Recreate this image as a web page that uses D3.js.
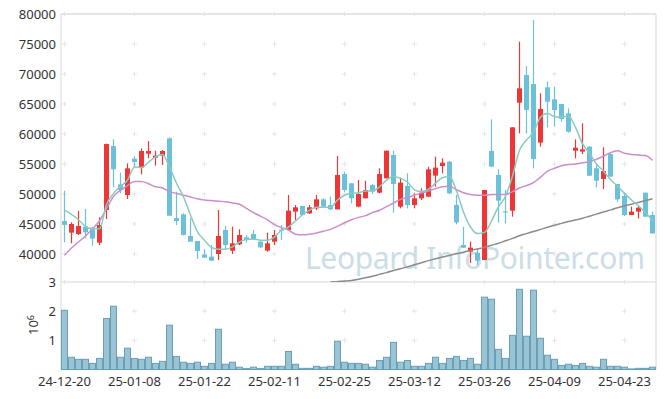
<!DOCTYPE html>
<html>
<head>
<meta charset="utf-8">
<script src="https://cdn.jsdelivr.net/npm/d3@7"></script>
<style>
  body { margin: 0; background: #fff; }
  text { font-family: "Noto Sans", "Open Sans", sans-serif; }
</style>
</head>
<body>
<div id="chart"></div>
<script>
// trading days (KRX), 24-12-20 .. 25-04-29
const dates = [
  "2024-12-20","2024-12-23","2024-12-24","2024-12-26","2024-12-27","2024-12-30",
  "2025-01-02","2025-01-03","2025-01-06","2025-01-07","2025-01-08","2025-01-09","2025-01-10",
  "2025-01-13","2025-01-14","2025-01-15","2025-01-16","2025-01-17","2025-01-20","2025-01-21",
  "2025-01-22","2025-01-23","2025-01-24","2025-01-31",
  "2025-02-03","2025-02-04","2025-02-05","2025-02-06","2025-02-07","2025-02-10","2025-02-11",
  "2025-02-12","2025-02-13","2025-02-14","2025-02-17","2025-02-18","2025-02-19","2025-02-20",
  "2025-02-21","2025-02-24","2025-02-25","2025-02-26","2025-02-27","2025-02-28",
  "2025-03-04","2025-03-05","2025-03-06","2025-03-07","2025-03-10","2025-03-11","2025-03-12",
  "2025-03-13","2025-03-14","2025-03-17","2025-03-18","2025-03-19","2025-03-20","2025-03-21",
  "2025-03-24","2025-03-25","2025-03-26","2025-03-27","2025-03-28","2025-03-31",
  "2025-04-01","2025-04-02","2025-04-03","2025-04-04","2025-04-07","2025-04-08","2025-04-09",
  "2025-04-10","2025-04-11","2025-04-14","2025-04-15","2025-04-16","2025-04-17","2025-04-18",
  "2025-04-21","2025-04-22","2025-04-23","2025-04-24","2025-04-25","2025-04-28","2025-04-29"
];

const open = [45500,43560,43330,44560,44390,41890,47330,58000,51610,49830,55890,54390,56720,56060,56390,59280,46000,46610,43000,42170,
  39890,39560,40000,44000,40560,41610,42780,43330,42060,40560,42060,44050,44000,47060,48000,46780,47610,49110,48170,47440,
  53330,51780,47890,49280,51500,50220,52610,56500,47890,51330,48170,49280,49560,53060,54670,55390,48170,41500,40390,40220,
  39000,57170,53170,47100,47220,65220,69830,68330,58560,67780,65780,65000,63440,57220,57060,57890,54280,52500,56670,51670,
  49670,46500,47060,50220,46500];
const high = [50550,45280,47170,47500,44440,46100,58400,59110,53560,55110,56330,57610,58830,57220,57330,59440,50390,46780,45940,42170,
  40780,41500,47330,44670,44560,44110,43170,44000,42100,43560,44000,44830,49830,48170,48000,48170,49830,49280,49560,56330,
  53720,51780,52330,52220,51670,54280,57220,57220,52720,53440,50110,50940,54560,56220,55940,55500,49830,44560,42060,40940,
  50670,62440,54110,50670,61110,75390,71330,79000,66780,68720,67890,65000,64280,59110,61780,58000,54830,57780,56780,51670,
  50220,47890,48000,50220,47060];
const low = [41950,41780,43170,42610,41390,41500,45830,51110,50110,49170,54390,53280,55940,54720,54830,46300,44830,43100,42060,39170,
  39390,38800,39000,40780,40000,41500,41900,42330,41000,40390,41500,42330,44000,45670,46500,46670,47330,47890,47330,47440,
  50390,48440,47780,49280,50000,50110,52610,46890,47610,47610,47610,49000,49560,51220,53440,49940,44940,41000,38500,38170,
  39000,54560,45220,45110,46220,60110,60110,54280,57890,61110,61220,62060,60220,55940,56670,53000,51110,50830,52890,48720,
  46330,46500,45940,46220,43330];
const close = [44850,45000,44670,43610,42560,44830,58330,54110,50670,54280,55330,57170,57170,56390,57170,46390,45500,43170,42060,40500,
  39390,38890,43000,41500,41780,43170,42330,42440,41110,41780,43170,43950,47220,47780,46500,47780,49110,47890,47440,53170,
  50670,49280,50000,50670,50390,53330,57220,51670,51890,48170,49280,50220,54110,54390,55220,50110,45280,41060,41060,38890,
  50670,54560,48890,47000,61110,67610,64000,55830,64170,65390,64000,62500,60390,57720,57440,53060,52220,53830,52890,49110,
  46500,47060,47720,46220,43440];

// volume in millions of shares
const volume = [2.03,0.42,0.35,0.35,0.21,0.38,1.75,2.17,0.42,0.73,0.38,0.35,0.42,0.21,0.28,1.52,0.45,0.25,0.21,0.25,
  0.11,0.21,1.38,0.18,0.25,0.08,0.03,0.08,0.03,0.11,0.11,0.11,0.62,0.18,0.04,0.04,0.11,0.08,0.11,0.97,
  0.25,0.21,0.21,0.18,0.08,0.31,0.42,0.93,0.25,0.31,0.11,0.11,0.21,0.42,0.21,0.38,0.45,0.31,0.38,0.18,
  2.48,2.41,0.69,0.38,1.17,2.75,1.14,2.72,1.07,0.49,0.35,0.14,0.18,0.14,0.21,0.11,0.08,0.35,0.11,0.11,
  0.08,0.02,0.04,0.04,0.08];

// moving averages as drawn
const ma5 = [47300,46600,45700,44600,44200,44200,48200,50100,51300,52300,54500,54400,55300,56200,56600,54500,51800,49500,46500,43700,
  42300,41100,40800,40800,41200,42000,42400,42500,42300,42300,42800,44000,44500,45500,46500,47300,47800,47800,47800,49000,
  49800,50100,50200,50500,50500,51200,52300,52900,52600,52000,50700,50400,50800,51800,52700,52900,50500,47000,44500,43400,
  43600,45500,47900,49600,53000,57300,59000,60300,62800,63400,62900,62800,63000,61100,58400,56800,55000,53800,52400,51300,
  50100,49000,48000,46900,45600];
const ma20 = [39800,41000,42000,43000,44200,45500,47500,49600,50600,51400,52100,52100,51700,51200,51000,50400,50100,49800,49500,49200,
  49000,48900,48800,48700,48500,48300,47600,46900,46300,45700,44900,44400,44000,43300,43200,43300,43500,43800,44100,44600,
  45200,45700,46100,46400,46900,47300,47900,48500,49100,49400,49800,50200,50500,50900,51200,51300,50700,50200,49900,49800,
  49800,49900,49900,49900,50400,51000,51400,51900,52800,53800,54300,54700,54900,55000,55200,55400,55800,56300,56900,57200,
  56800,56600,56500,56400,55600];
const ma60 = [null,null,null,null,null,null,null,null,null,null,null,null,null,null,null,null,null,null,null,null,
  null,null,null,null,null,null,null,null,null,null,null,null,null,null,null,null,null,null,35330,35400,
  35480,35580,35800,36050,36300,36600,36900,37250,37550,37850,38200,38550,38900,39200,39500,39750,40050,40300,40600,40850,
  41100,41450,41800,42200,42600,43050,43400,43750,44100,44450,44800,45100,45400,45650,45950,46300,46650,47000,47350,47700,
  48000,48300,48600,48900,49200];

const priceTicks = [40000, 45000, 50000, 55000, 60000, 65000, 70000, 75000, 80000];
const volTicks = [1, 2, 3];

const W = 665, H = 399;
const pLeft = 61, pRight = 656, pTop = 14, priceBottom = 282, volBottom = 369.5;

const svg = d3.select("#chart").append("svg")
  .attr("width", W).attr("height", H);

const parse = d3.timeParse("%Y-%m-%d");
const fmt = d3.timeFormat("%y-%m-%d");
const data = dates.map(function (d, i) {
  return { date: d, o: open[i], h: high[i], l: low[i], c: close[i], v: volume[i],
           m5: ma5[i], m20: ma20[i], m60: ma60[i] };
});

const x = d3.scaleBand().domain(dates).range([pLeft, pRight]).padding(0);
const cx = function (d) { return x(d) + x.bandwidth() / 2; };
const y = d3.scaleLinear().domain([35333, 80000]).range([priceBottom, pTop]);
const yv = d3.scaleLinear().domain([0, 3]).range([volBottom, priceBottom]);

const xTickDates = dates.filter(function (d, i) { return i % 10 === 0; });

// frame
const frameColor = "#e4e4e4";
svg.append("line").attr("x1", pLeft).attr("x2", pRight).attr("y1", pTop).attr("y2", pTop)
  .attr("stroke", frameColor).attr("stroke-width", 2);
svg.append("line").attr("x1", pLeft).attr("x2", pLeft).attr("y1", pTop).attr("y2", volBottom)
  .attr("stroke", frameColor).attr("stroke-width", 1.5);
svg.append("line").attr("x1", pRight).attr("x2", pRight).attr("y1", pTop).attr("y2", volBottom)
  .attr("stroke", frameColor).attr("stroke-width", 1.5);
svg.append("line").attr("x1", pLeft).attr("x2", pRight).attr("y1", priceBottom).attr("y2", priceBottom)
  .attr("stroke", frameColor).attr("stroke-width", 1.5);
svg.append("line").attr("x1", pLeft).attr("x2", pRight).attr("y1", volBottom).attr("y2", volBottom)
  .attr("stroke", frameColor).attr("stroke-width", 1);

// grid crosses
const gridYs = priceTicks.map(y).concat(volTicks.map(yv));
const crosses = [];
xTickDates.forEach(function (d) {
  gridYs.forEach(function (gy) { crosses.push([cx(d), gy]); });
});
svg.append("g").selectAll("path").data(crosses).enter().append("path")
  .attr("d", function (p) {
    return "M" + (p[0] - 2.5) + "," + p[1] + "H" + (p[0] + 2.5) +
           "M" + p[0] + "," + (p[1] - 2.5) + "V" + (p[1] + 2.5);
  })
  .attr("stroke", "#e6e6e6").attr("stroke-width", 1);

// watermark
svg.append("text")
  .attr("x", 475).attr("y", 269)
  .attr("text-anchor", "middle")
  .style("font-size", "30px")
  .attr("textLength", 340)
  .attr("fill", "#c6dae5")
  .attr("opacity", 0.9)
  .text("Leopard InfoPointer.com");

// y axis labels
svg.append("g").selectAll("text").data(priceTicks).enter().append("text")
  .attr("x", 56).attr("y", function (d) { return y(d); })
  .attr("dy", "0.35em").attr("text-anchor", "end")
  .style("font-size", "13px").attr("fill", "#333")
  .text(function (d) { return d; });
svg.append("g").selectAll("text").data(volTicks).enter().append("text")
  .attr("x", 56).attr("y", function (d) { return yv(d); })
  .attr("dy", "0.35em").attr("text-anchor", "end")
  .style("font-size", "13px").attr("fill", "#333")
  .text(function (d) { return d; });
const unit = svg.append("text")
  .attr("transform", "translate(38,325) rotate(-90)")
  .attr("text-anchor", "middle")
  .style("font-size", "13px").attr("fill", "#333");
unit.append("tspan").text("10");
unit.append("tspan").attr("dy", "-0.5em").style("font-size", "9px").text("6");

// x axis labels
svg.append("g").selectAll("text").data(xTickDates).enter().append("text")
  .attr("x", function (d) { return cx(d); }).attr("y", 386)
  .attr("text-anchor", "middle")
  .style("font-size", "13px").attr("fill", "#333")
  .text(function (d) { return fmt(parse(d)); });

// volume bars
svg.append("g").selectAll("rect").data(data).enter().append("rect")
  .attr("x", function (d) { return x(d.date) + 0.5; })
  .attr("width", x.bandwidth() - 1)
  .attr("y", function (d) { return yv(d.v); })
  .attr("height", function (d) { return volBottom - yv(d.v); })
  .attr("fill", "#9ac3d4")
  .attr("stroke", "#6a9fb8").attr("stroke-width", 1);

// candles
const up = "#ee3636", down = "#6cc1da";
svg.append("clipPath").attr("id", "pclip").append("rect")
  .attr("x", pLeft).attr("y", pTop).attr("width", pRight - pLeft).attr("height", priceBottom - pTop);
const pg = svg.append("g").attr("clip-path", "url(#pclip)");
const candle = pg.append("g").selectAll("g").data(data).enter().append("g");
candle.append("line")
  .attr("x1", function (d) { return cx(d.date); })
  .attr("x2", function (d) { return cx(d.date); })
  .attr("y1", function (d) { return y(d.h); })
  .attr("y2", function (d) { return y(d.l); })
  .attr("stroke", function (d) { return d.c >= d.o ? up : down; })
  .attr("stroke-width", 1.2);
candle.append("rect")
  .attr("x", function (d) { return cx(d.date) - 2.5; })
  .attr("width", 5)
  .attr("y", function (d) { return y(Math.max(d.o, d.c)); })
  .attr("height", function (d) { return Math.max(1, Math.abs(y(d.o) - y(d.c))); })
  .attr("fill", function (d) { return d.c >= d.o ? up : down; });

// moving averages
function maLine(key) {
  return d3.line()
    .defined(function (d) { return d[key] != null; })
    .x(function (d) { return cx(d.date); })
    .y(function (d) { return y(d[key]); })
    .curve(d3.curveMonotoneX);
}
pg.append("path").datum(data).attr("d", maLine("m60"))
  .attr("fill", "none").attr("stroke", "#8c8c8c").attr("stroke-width", 1.5);
pg.append("path").datum(data).attr("d", maLine("m20"))
  .attr("fill", "none").attr("stroke", "#cc8dcb").attr("stroke-width", 1.5);
pg.append("path").datum(data).attr("d", maLine("m5"))
  .attr("fill", "none").attr("stroke", "#88cbc1").attr("stroke-width", 1.5);
</script>
</body>
</html>
